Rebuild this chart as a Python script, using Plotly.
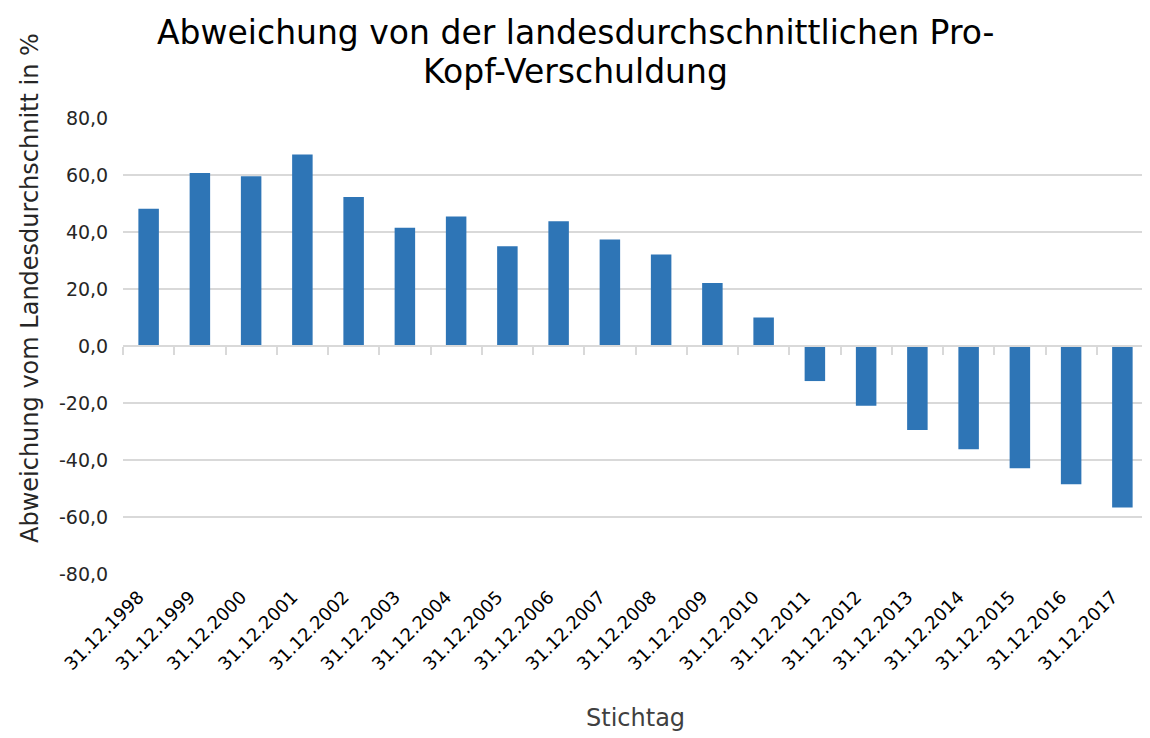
import plotly.graph_objects as go

categories = ["31.12.1998", "31.12.1999", "31.12.2000", "31.12.2001", "31.12.2002",
              "31.12.2003", "31.12.2004", "31.12.2005", "31.12.2006", "31.12.2007",
              "31.12.2008", "31.12.2009", "31.12.2010", "31.12.2011", "31.12.2012",
              "31.12.2013", "31.12.2014", "31.12.2015", "31.12.2016", "31.12.2017"]
values = [48.2, 60.7, 59.6, 67.2, 52.3, 41.5, 45.4, 35.0, 43.8, 37.4,
          32.1, 22.1, 10.0, -12.3, -21.0, -29.5, -36.2, -42.9, -48.5, -56.7]
y_ticks = [-80, -60, -40, -20, 0, 20, 40, 60, 80]
y_tick_text = [f"{v:.1f}".replace(".", ",") for v in y_ticks]

FONT = "DejaVu Sans, sans-serif"
TXT = "#404040"

fig = go.Figure()
fig.add_trace(go.Bar(x=categories, y=values, marker=dict(color="#2e75b6", line=dict(width=0)),
                     width=0.4, hoverinfo="x+y"))
# invisible trace to carry the axis drawn at zero (category separators)
fig.add_trace(go.Scatter(x=categories, y=[0] * len(categories), xaxis="x2", mode="markers",
                         marker=dict(opacity=0), hoverinfo="skip", showlegend=False))

# the page body has an 8px default margin, so the figure is shrunk accordingly
fig.update_layout(
    width=1142, height=730,
    margin=dict(l=115, r=2, t=110, b=164),
    paper_bgcolor="white", plot_bgcolor="white",
    showlegend=False,
    xaxis=dict(type="category", categoryorder="array", categoryarray=categories,
               range=[-0.5, len(categories) - 0.5], autorange=False,
               tickangle=-45, showgrid=False, zeroline=False, showline=False, ticks="",
               automargin=False, ticklabelstandoff=8, ticklabelshift=-10,
               tickfont=dict(family=FONT, size=18, color="#000000")),
    xaxis2=dict(type="category", categoryorder="array", categoryarray=categories,
                overlaying="x", matches="x", anchor="free", position=0.5,
                showline=True, linecolor="#d9d9d9", linewidth=1.5,
                ticks="outside", tickson="boundaries", ticklen=8, tickwidth=1.5, tickcolor="#d9d9d9",
                showticklabels=False, showgrid=False, zeroline=False, automargin=False),
    yaxis=dict(range=[-80, 80], tickvals=y_ticks, ticktext=y_tick_text,
               showgrid=True, gridcolor="#d9d9d9", gridwidth=1.5, zeroline=False,
               ticks="outside", ticklen=10, tickcolor="rgba(0,0,0,0)", automargin=False,
               tickfont=dict(family=FONT, size=19, color="#262626")),
    annotations=[
        dict(text="Abweichung von der landesdurchschnittlichen Pro-", xref="paper", yref="paper",
             x=0.5, y=1.0, xanchor="center", yanchor="middle", yshift=86, xshift=-60, showarrow=False,
             font=dict(family=FONT, size=33, color="#000000")),
        dict(text="Kopf-Verschuldung", xref="paper", yref="paper",
             x=0.5, y=1.0, xanchor="center", yanchor="middle", yshift=47, xshift=-60, showarrow=False,
             font=dict(family=FONT, size=33, color="#000000")),
        dict(text="Abweichung vom Landesdurchschnitt in %", textangle=-90,
             xref="paper", yref="paper", x=0, y=0.5, xanchor="center", yanchor="middle",
             xshift=-93, yshift=58, showarrow=False, font=dict(family=FONT, size=24, color="#262626")),
        dict(text="Stichtag", xref="paper", yref="paper", x=0.5, y=0, xanchor="center",
             yanchor="middle", yshift=-144, showarrow=False,
             font=dict(family=FONT, size=24, color=TXT)),
    ],
)

fig.write_html("out.html")
